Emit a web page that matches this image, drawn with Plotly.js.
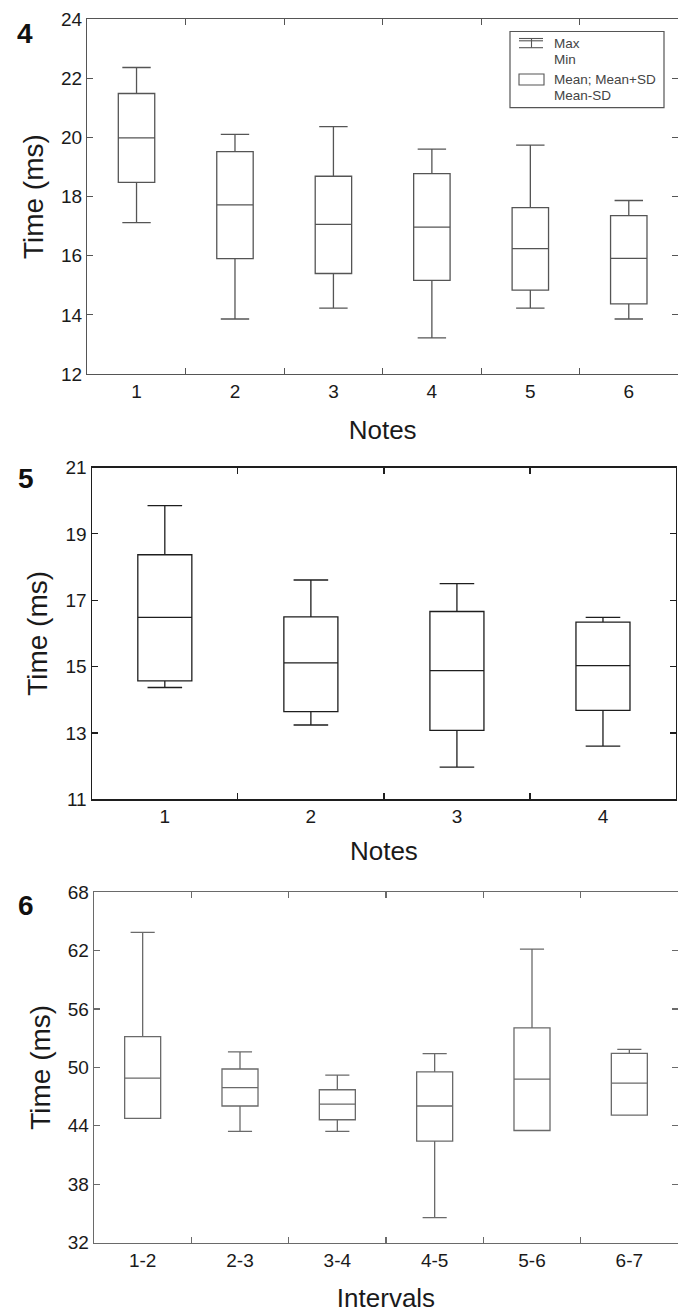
<!DOCTYPE html>
<html>
<head>
<meta charset="utf-8">
<script src="https://cdn.plot.ly/plotly-3.0.1.min.js"></script>
<style>html,body{margin:0;padding:0;background:#fff;} #chart{width:678px;height:1313px;}</style>
</head>
<body>
<div id="chart"></div>
<script>
// ---- Panel 4: Notes (ms) ----
const notes4 = ['1', '2', '3', '4', '5', '6'];
const max4 = [22.37, 20.11, 20.37, 19.61, 19.74, 17.87];
const meanPlusSD4 = [21.49, 19.52, 18.69, 18.78, 17.63, 17.36];
const mean4 = [19.99, 17.72, 17.06, 16.97, 16.24, 15.91];
const meanMinusSD4 = [18.48, 15.90, 15.40, 15.17, 14.84, 14.37];
const min4 = [17.12, 13.86, 14.23, 13.22, 14.23, 13.86];

// ---- Panel 5: Notes (ms) ----
const notes5 = ['1', '2', '3', '4'];
const max5 = [19.85, 17.61, 17.50, 16.48];
const meanPlusSD5 = [18.37, 16.50, 16.66, 16.34];
const mean5 = [16.48, 15.11, 14.88, 15.03];
const meanMinusSD5 = [14.57, 13.64, 13.08, 13.68];
const min5 = [14.37, 13.24, 11.97, 12.60];

// ---- Panel 6: Intervals (ms) ----
const intervals6 = ['1-2', '2-3', '3-4', '4-5', '5-6', '6-7'];
const max6 = [63.85, 51.58, 49.21, 51.41, 62.14, 51.85];
const meanPlusSD6 = [53.16, 49.83, 47.70, 49.53, 54.05, 51.44];
const mean6 = [48.90, 47.91, 46.23, 46.03, 48.80, 48.39];
const meanMinusSD6 = [44.76, 46.03, 44.62, 42.43, 43.52, 45.10];
const min6 = [44.76, 43.42, 43.42, 34.57, 43.52, 45.10];

const panelLabels = ['4', '5', '6'];
const xTitles = ['Notes', 'Notes', 'Intervals'];
const yTitle = 'Time (ms)';
const legendTexts = ['Max', 'Min', 'Mean; Mean+SD', 'Mean-SD'];

const W = 678, H = 1313;
const px = x => x / W;
const py = y => 1 - y / H;

const FONT = 'Liberation Sans, Arial, sans-serif';
const col4 = '#555555', col5 = '#1e1e1e', col6 = '#6a6a6a';

function boxTrace(x, lo, q1, med, q3, hi, xa, ya, color, ww) {
  return {
    type: 'box', x: x, q1: q1, median: med, q3: q3,
    lowerfence: lo, upperfence: hi,
    xaxis: xa, yaxis: ya,
    width: 0.37, whiskerwidth: ww,
    boxpoints: false,
    line: {color: color, width: 1.3},
    fillcolor: 'rgba(255,255,255,0)',
    hoverinfo: 'skip', showlegend: false
  };
}

const data = [
  boxTrace(notes4, min4, meanMinusSD4, mean4, meanPlusSD4, max4, 'x', 'y', col4, 0.78),
  boxTrace(notes5, min5, meanMinusSD5, mean5, meanPlusSD5, max5, 'x2', 'y2', col5, 0.64),
  boxTrace(intervals6, min6, meanMinusSD6, mean6, meanPlusSD6, max6, 'x3', 'y3', col6, 0.67)
];

function xAxis(domain, anchor, color, n, title, standoff) {
  return {
    domain: domain, anchor: anchor, type: 'category',
    range: [-0.5, n - 0.5],
    showline: true, mirror: 'ticks', linecolor: color, linewidth: 1.3,
    ticks: 'inside', tickson: 'boundaries', ticklen: 6, tickcolor: color, tickwidth: 1.2,
    tickfont: {family: FONT, size: 19, color: '#1a1a1a'},
    showgrid: false, zeroline: false, fixedrange: true,
    title: {text: title, font: {family: FONT, size: 26, color: '#1a1a1a'}, standoff: standoff}
  };
}
function yAxis(domain, anchor, color, range, dtick, standoff) {
  return {
    domain: domain, anchor: anchor,
    range: range, tick0: range[0], dtick: dtick,
    showline: true, mirror: 'ticks', linecolor: color, linewidth: 1.3,
    ticks: 'inside', ticklen: 6, tickcolor: color, tickwidth: 1.2,
    tickfont: {family: FONT, size: 19, color: '#1a1a1a'},
    showgrid: false, zeroline: false, fixedrange: true,
    title: {text: yTitle, font: {family: FONT, size: 28, color: '#1a1a1a'}, standoff: standoff}
  };
}

const legendLine = {color: '#555', width: 1.1};
const legendFont = {family: FONT, size: 13.5, color: '#444'};

const layout = {
  width: W, height: H,
  margin: {l: 0, r: 0, t: 0, b: 0},
  paper_bgcolor: '#ffffff', plot_bgcolor: '#ffffff',
  showlegend: false,
  font: {family: FONT},
  xaxis: xAxis([px(87.3), 1], 'y', col4, notes4.length, xTitles[0], 19),
  yaxis: yAxis([py(374), py(19.3)], 'x', col4, [12, 24], 2, 9),
  xaxis2: xAxis([px(91.8), px(676)], 'y2', col5, notes5.length, xTitles[1], 15),
  yaxis2: yAxis([py(799.3), py(467.5)], 'x2', col5, [11, 21], 2, 9),
  xaxis3: xAxis([px(94), 1], 'y3', col6, intervals6.length, xTitles[2], 21),
  yaxis3: yAxis([py(1242.7), py(892)], 'x3', col6, [32, 68], 6, 9),
  shapes: [
    // legend frame
    {type: 'rect', xref: 'paper', yref: 'paper', x0: px(510), x1: px(664), y0: py(107.7), y1: py(31.5),
     line: {color: '#555', width: 1.2}, fillcolor: 'rgba(0,0,0,0)'},
    // whisker symbol
    {type: 'line', xref: 'paper', yref: 'paper', x0: px(519), x1: px(543), y0: py(38.5), y1: py(38.5), line: legendLine},
    {type: 'line', xref: 'paper', yref: 'paper', x0: px(519), x1: px(543), y0: py(40.8), y1: py(40.8), line: legendLine},
    {type: 'line', xref: 'paper', yref: 'paper', x0: px(531.5), x1: px(531.5), y0: py(39), y1: py(47.7), line: legendLine},
    {type: 'line', xref: 'paper', yref: 'paper', x0: px(519), x1: px(543), y0: py(47.7), y1: py(47.7), line: legendLine},
    // box symbol
    {type: 'rect', xref: 'paper', yref: 'paper', x0: px(519), x1: px(544), y0: py(85), y1: py(74),
     line: legendLine, fillcolor: 'rgba(0,0,0,0)'}
  ],
  annotations: [
    {text: '<b>' + panelLabels[0] + '</b>', xref: 'paper', yref: 'paper', x: px(25), y: py(33), showarrow: false,
     font: {family: FONT, size: 28, color: '#111'}, xanchor: 'center', yanchor: 'middle'},
    {text: '<b>' + panelLabels[1] + '</b>', xref: 'paper', yref: 'paper', x: px(26), y: py(479), showarrow: false,
     font: {family: FONT, size: 28, color: '#111'}, xanchor: 'center', yanchor: 'middle'},
    {text: '<b>' + panelLabels[2] + '</b>', xref: 'paper', yref: 'paper', x: px(26), y: py(905), showarrow: false,
     font: {family: FONT, size: 28, color: '#111'}, xanchor: 'center', yanchor: 'middle'},
    {text: legendTexts[0], xref: 'paper', yref: 'paper', x: px(552), y: py(44), showarrow: false,
     font: legendFont, xanchor: 'left', yanchor: 'middle'},
    {text: legendTexts[1], xref: 'paper', yref: 'paper', x: px(552), y: py(59.5), showarrow: false,
     font: legendFont, xanchor: 'left', yanchor: 'middle'},
    {text: legendTexts[2], xref: 'paper', yref: 'paper', x: px(552), y: py(80), showarrow: false,
     font: legendFont, xanchor: 'left', yanchor: 'middle'},
    {text: legendTexts[3], xref: 'paper', yref: 'paper', x: px(552), y: py(95.5), showarrow: false,
     font: legendFont, xanchor: 'left', yanchor: 'middle'}
  ]
};

Plotly.newPlot('chart', data, layout, {staticPlot: true, displayModeBar: false});
</script>
</body>
</html>
